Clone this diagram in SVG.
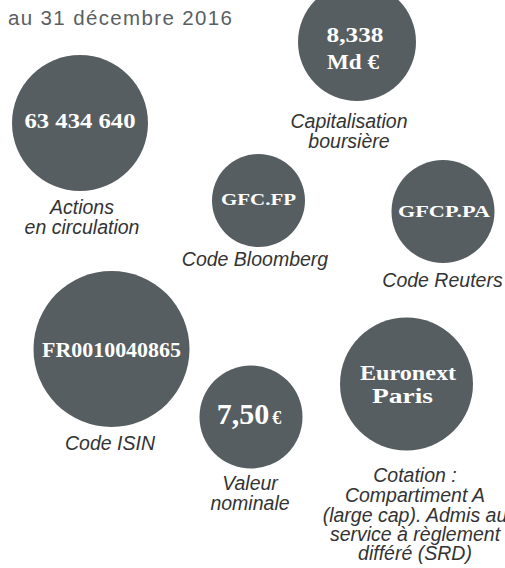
<svg xmlns="http://www.w3.org/2000/svg" width="505" height="568" viewBox="0 0 505 568">
<style>
.c{fill:#575e61}
.v{font-family:"Liberation Serif","DejaVu Serif",serif;font-weight:bold;fill:#ffffff;text-anchor:middle}
.l{font-family:"Liberation Sans",Arial,sans-serif;font-style:italic;font-size:19.5px;fill:#333333;text-anchor:middle}
.t{font-family:"Liberation Sans",Arial,sans-serif;font-size:20.5px;fill:#596064}
</style>
<rect width="505" height="568" fill="#ffffff"/>
<text class="t" x="8" y="25" textLength="224" lengthAdjust="spacing">au 31 décembre 2016</text>
<g id="connectors"/>
<g id="actions">
<circle class="c" cx="80" cy="123" r="68"/>
<text class="v" x="80" y="128" font-size="21" textLength="111" lengthAdjust="spacingAndGlyphs">63 434 640</text>
<text class="l" x="82" y="214">Actions</text>
<text class="l" x="82" y="234">en circulation</text>
</g>
<g id="capitalisation">
<circle class="c" cx="357" cy="42" r="59"/>
<text class="v" x="355" y="42" font-size="20" textLength="57" lengthAdjust="spacingAndGlyphs">8,338</text>
<text class="v" x="353" y="69" font-size="20" textLength="52" lengthAdjust="spacingAndGlyphs">Md €</text>
<text class="l" x="349" y="128">Capitalisation</text>
<text class="l" x="349" y="148">boursière</text>
</g>
<g id="bloomberg">
<circle class="c" cx="258.5" cy="200.5" r="46.5"/>
<text class="v" x="258.5" y="205" font-size="17" textLength="75" lengthAdjust="spacingAndGlyphs">GFC.FP</text>
<text class="l" x="255" y="266">Code Bloomberg</text>
</g>
<g id="reuters">
<circle class="c" cx="443" cy="211.5" r="51.5"/>
<text class="v" x="444" y="217" font-size="17" textLength="92" lengthAdjust="spacingAndGlyphs">GFCP.PA</text>
<text class="l" x="442.5" y="287">Code Reuters</text>
</g>
<g id="isin">
<circle class="c" cx="111.5" cy="349" r="78"/>
<text class="v" x="111.5" y="357" font-size="21" textLength="139" lengthAdjust="spacingAndGlyphs">FR0010040865</text>
<text class="l" x="110" y="450">Code ISIN</text>
</g>
<g id="nominale">
<circle class="c" cx="251" cy="417" r="51.5"/>
<text class="v" x="249" y="424" font-size="30">7,50<tspan font-size="18" dx="3">€</tspan></text>
<text class="l" x="250" y="490">Valeur</text>
<text class="l" x="250" y="510">nominale</text>
</g>
<g id="euronext">
<circle class="c" cx="406.5" cy="384" r="66.5"/>
<text class="v" x="408" y="380" font-size="21" textLength="96" lengthAdjust="spacingAndGlyphs">Euronext</text>
<text class="v" x="402.5" y="403" font-size="21" textLength="61" lengthAdjust="spacingAndGlyphs">Paris</text>
<text class="l" x="415" y="482">Cotation :</text>
<text class="l" x="415" y="502">Compartiment A</text>
<text class="l" x="415" y="522">(large cap). Admis au</text>
<text class="l" x="415" y="541">service à règlement</text>
<text class="l" x="415" y="560">différé (SRD)</text>
</g>
</svg>
